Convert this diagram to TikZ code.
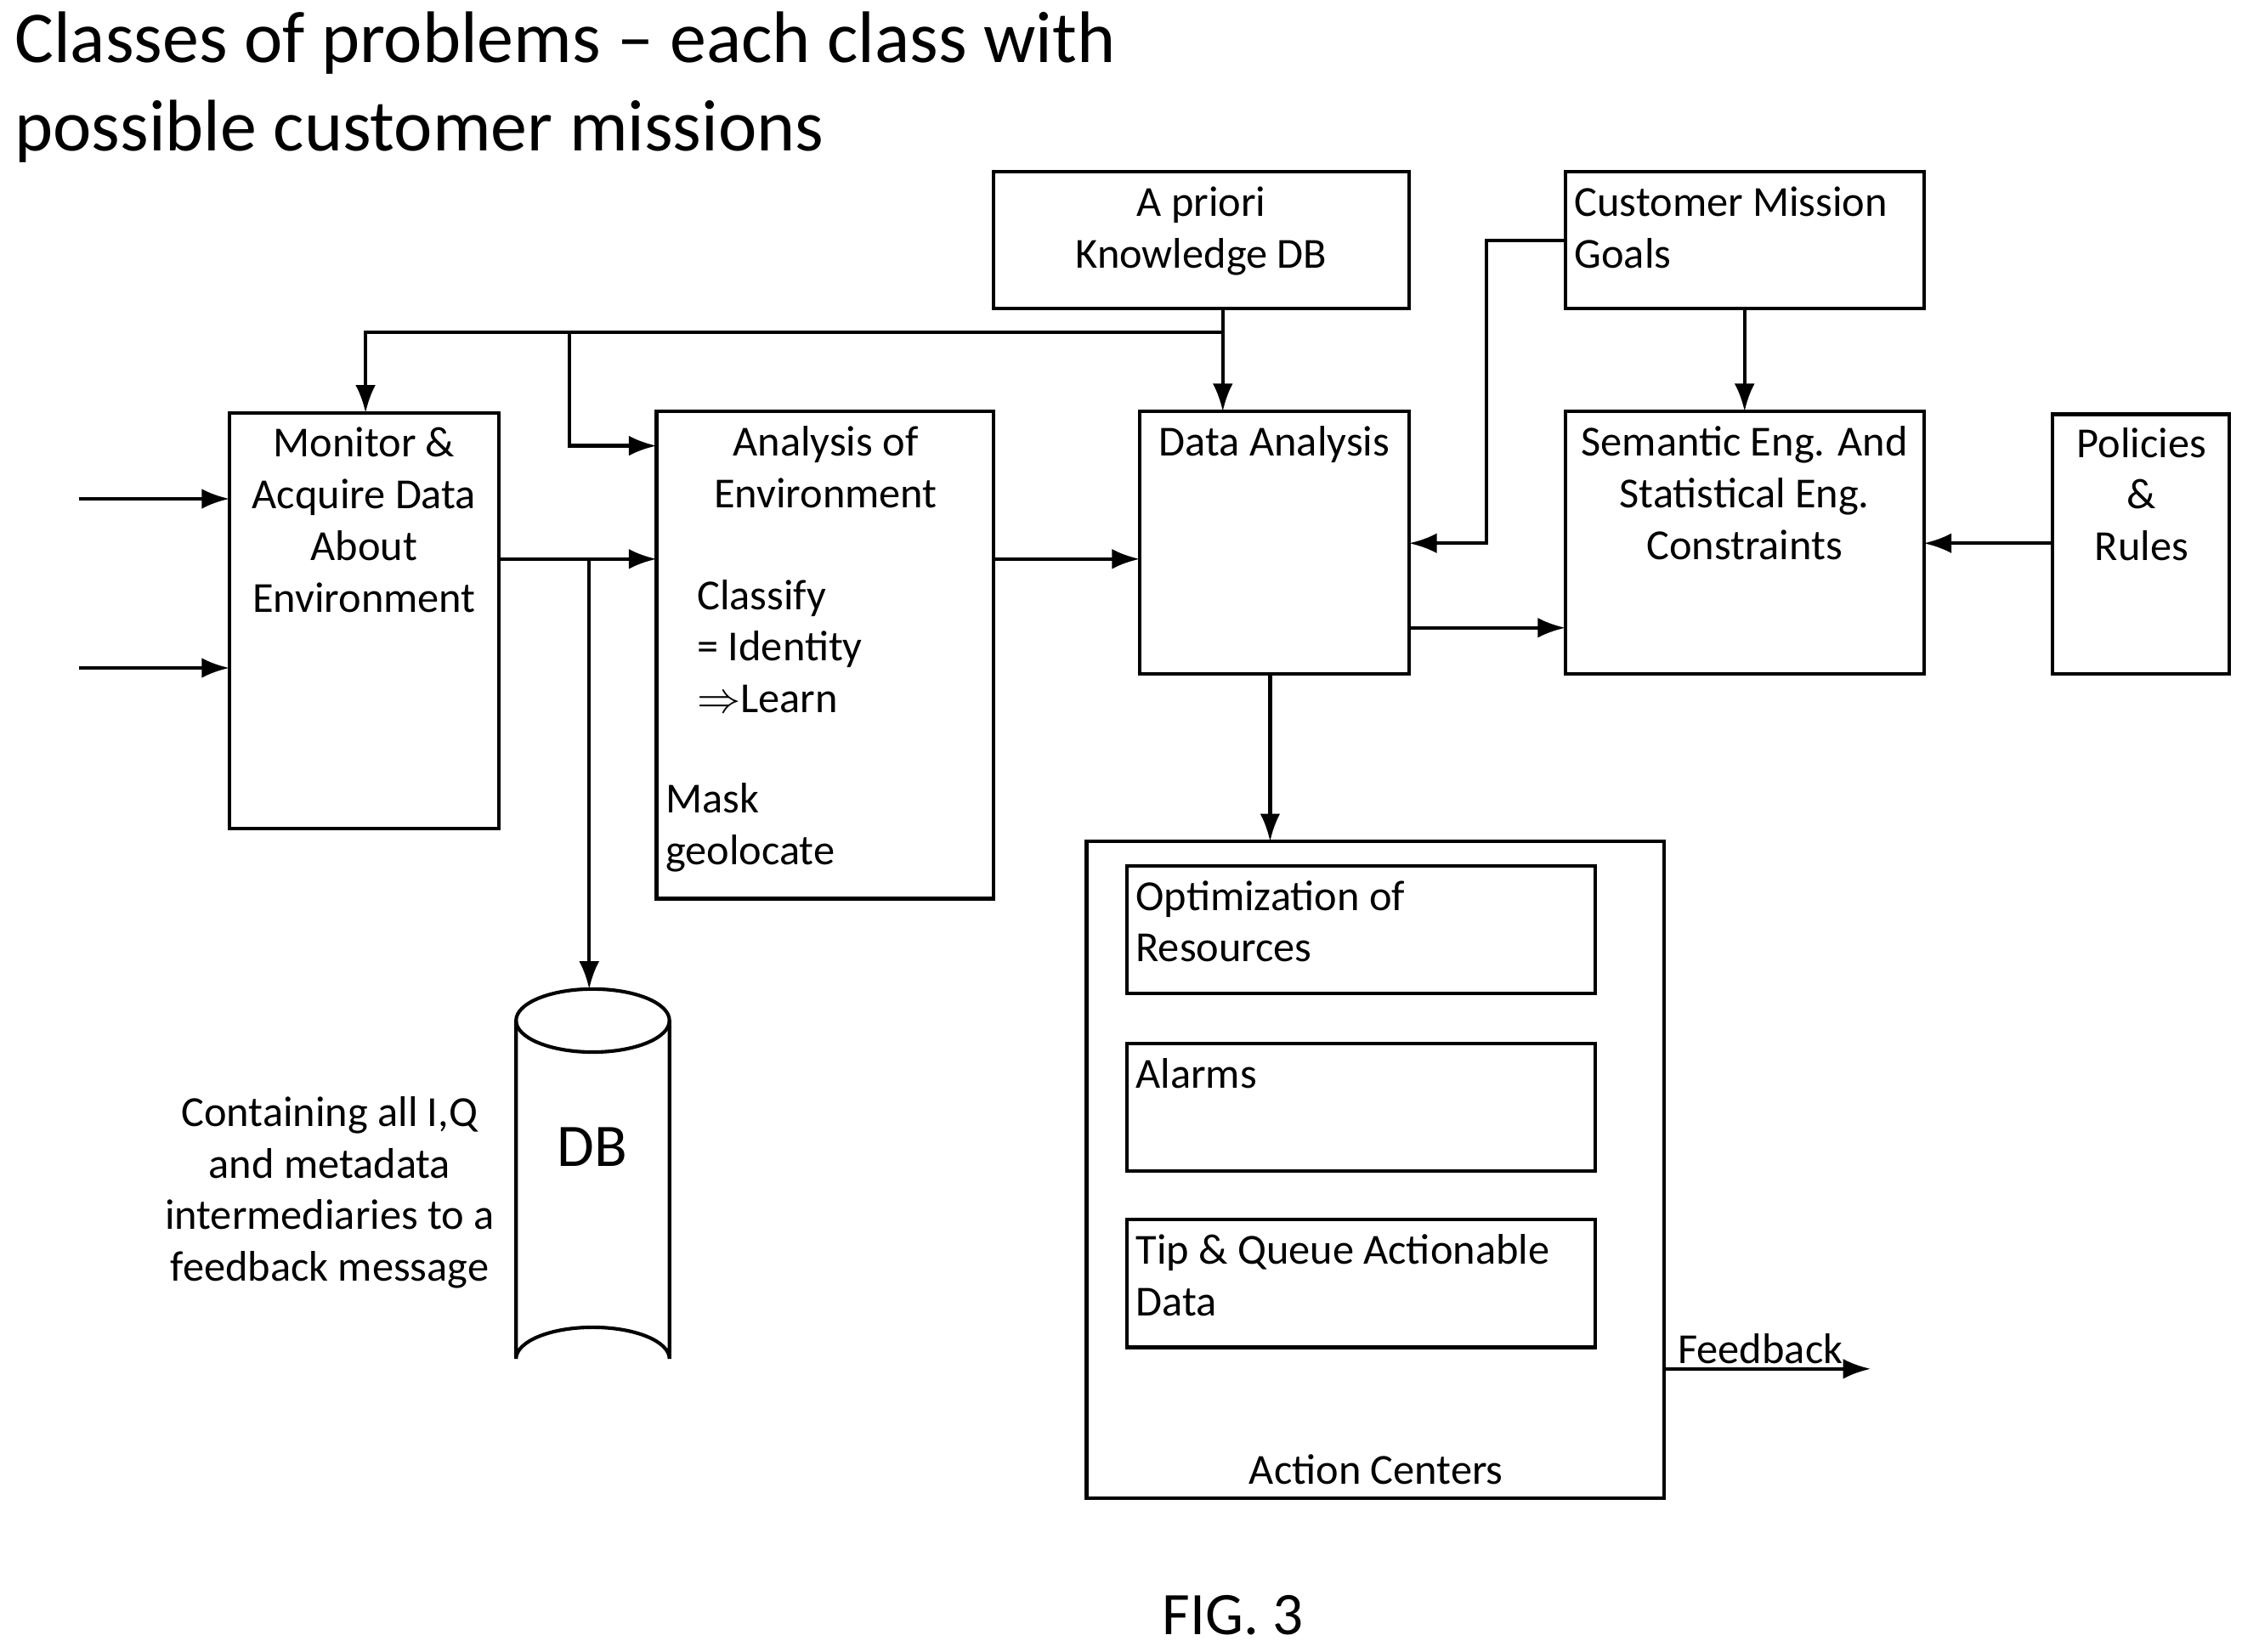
\documentclass[tikz,border=0pt]{standalone}
\usepackage{fontspec}
\setmainfont{Carlito}
\usetikzlibrary{arrows.meta,fit,shapes.geometric}
\begin{document}
\begin{tikzpicture}[x=0.02cm,y=-0.02cm,
 box/.style={draw,line width=1.4pt,inner sep=0pt},
 txt/.style={font=\fontsize{17}{20.5}\selectfont,align=center,inner sep=0pt},
 ltxt/.style={font=\fontsize{17}{20.5}\selectfont,align=left,inner sep=0pt,anchor=north west},
 arr/.style={line width=1.4pt,-{Latex[length=11pt,width=8pt]}},
 ln/.style={line width=1.4pt}]
\useasboundingbox (0,0) rectangle (1564,1152);
\node[anchor=north west,inner sep=0,font=\fontsize{29}{35}\selectfont,align=left] (title) at (10,8) {Classes of problems -- each class with\\possible customer missions};
\node[box,fit={(693,120)(983,215)}] (apr) {};
\node[txt,anchor=north] (aprt) at (838,130) {A priori\\Knowledge DB};
\node[box,fit={(1092,120)(1342,215)}] (cmg) {};
\node[ltxt] (cmgt) at (1098,130) {Customer Mission\\Goals};
\node[box,fit={(160,288)(348,578)}] (mon) {};
\node[txt,anchor=north] (mont) at (254,298) {Monitor \&\\Acquire Data\\About\\Environment};
\node[box,fit={(458,287)(693,627)}] (ana) {};
\node[txt,anchor=north] (anat) at (576,297) {Analysis of\\Environment};
\node[ltxt] (anat2) at (486,404) {Classify\\= Identity\\$\Rightarrow$Learn};
\node[ltxt] (anat3) at (464,546) {Mask\\geolocate};
\node[box,fit={(795,287)(983,470)}] (da) {};
\node[txt,anchor=north] (dat) at (889,297) {Data Analysis};
\node[box,fit={(1092,287)(1342,470)}] (sem) {};
\node[txt,anchor=north] (semt) at (1217,297) {Semantic Eng. And\\Statistical Eng.\\Constraints};
\node[box,fit={(1432,289)(1555,470)}] (pol) {};
\node[txt,anchor=north] (polt) at (1494,298) {Policies\\\&\\Rules};
\node[box,fit={(758,587)(1161,1045)}] (ac) {};
\node[txt,anchor=south] (act) at (960,1036) {Action Centers};
\node[box,fit={(786,604)(1113,693)}] (opt) {};
\node[ltxt] (optt) at (792,614) {Optimization of\\Resources};
\node[box,fit={(786,728)(1113,817)}] (alm) {};
\node[ltxt] (almt) at (792,738) {Alarms};
\node[box,fit={(786,851)(1113,940)}] (tip) {};
\node[ltxt] (tipt) at (792,861) {Tip \& Queue Actionable\\Data};
% DB cylinder
\draw[ln] (360,712) -- (360,948) arc[start angle=180,end angle=360,x radius=53.5,y radius=22] -- (467,712);
\draw[ln] (413.5,712) ellipse [x radius=53.5,y radius=22];
\node[font=\fontsize{24}{28}\selectfont,inner sep=0] (dbt) at (413,800) {DB};
\coordinate (dbtop) at (411,690);
\node[txt] (cont) at (230,832) {Containing all I,Q\\and metadata\\intermediaries to a\\feedback message};
% inputs
\coordinate (in1) at (55,348); \coordinate (in2) at (55,466);
\draw[arr] (in1) -- (160,348);
\draw[arr] (in2) -- (160,466);
\draw[arr] (348,390) -- (458,390);
\draw[arr] (411,390) -- (dbtop);
\draw[arr] (853,215) -- (853,287);
\draw[arr] (853,232) -- (255,232) -- (255,288);
\draw[arr] (397,232) -- (397,311) -- (458,311);
\draw[arr] (693,390) -- (795,390);
\draw[arr] (1092,168) -- (1037,168) -- (1037,379) -- (983,379);
\draw[arr] (1217,215) -- (1217,287);
\draw[arr] (983,438) -- (1092,438);
\draw[arr] (1432,379) -- (1342,379);
\draw[arr] (886,470) -- (886,587);
\coordinate (fb) at (1305,955);
\draw[arr] (1161,955) -- (fb);
\node[txt,anchor=south] (fbt) at (1228,952) {Feedback};
\node[font=\fontsize{24}{28}\selectfont,inner sep=0] (fig) at (860,1127) {FIG. 3};
\end{tikzpicture}
\end{document}
